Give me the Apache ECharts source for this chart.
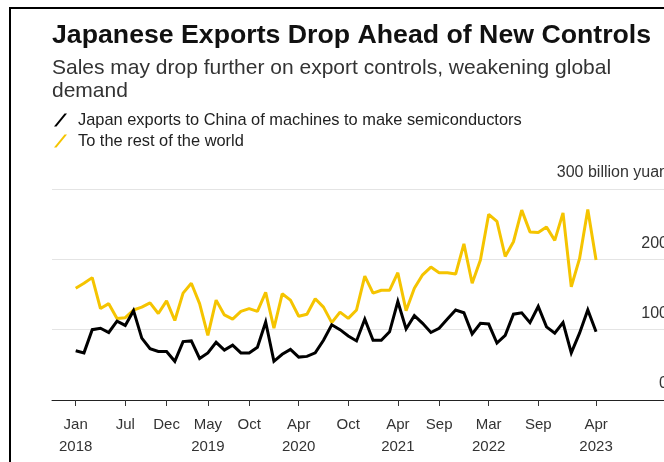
<!DOCTYPE html>
<html>
<head>
<meta charset="utf-8">
<script src="https://cdn.jsdelivr.net/npm/echarts@6/dist/echarts.min.js"></script>
<style>
  html, body { margin: 0; padding: 0; background: #fff; overflow: hidden; }
  #chart { width: 680px; height: 462px; }
</style>
</head>
<body>
<div id="chart"></div>
<script>
// monthly values, Jan 2018 .. Apr 2023 (billion yuan)
const months = ['Jan','Feb','Mar','Apr','May','Jun','Jul','Aug','Sep','Oct','Nov','Dec']
const startYear = 2018

const chinaExports = [
  70, 67, 100, 102, 96, 112, 106, 127, 88, 73, 69, 69,
  55, 83, 84, 59, 67, 82, 71, 78, 67, 67, 75, 111,
  55, 65, 72, 61, 62, 67, 85, 107, 100, 91, 84, 115,
  85, 85, 97, 140, 101, 120, 109, 96, 102, 115, 128, 124,
  94, 109, 108, 81, 92, 122, 124, 110, 133, 104, 95, 110,
  67, 95, 128, 97
]
const restOfWorld = [
  159, 166, 174, 130, 137, 116, 117, 128, 132, 138, 123, 141,
  113, 152, 166, 137, 92, 142, 121, 115, 126, 130, 126, 153,
  102, 151, 142, 119, 122, 144, 132, 110, 125, 116, 128, 176,
  152, 156, 156, 181, 127, 159, 178, 189, 181, 181, 179, 222,
  166, 199, 264, 254, 204, 225, 270, 239, 238, 246, 227, 266,
  161, 201, 271, 199
]

// tick positions (month index from Jan 2018)
const tickIdx = [0, 6, 11, 16, 21, 27, 33, 39, 44, 50, 56, 63]
const yTicks = [0, 100, 200, 300]

const seriesNames = ['Japan exports to China of machines to make semiconductors', 'To the rest of the world']

const chart = echarts.init(document.getElementById('chart'))

// month label, plus the year under the first tick of each year
const labelFor = (i) => {
  const m = months[i % 12]
  const y = startYear + Math.floor(i / 12)
  const first = tickIdx.find(t => startYear + Math.floor(t / 12) === y)
  return first === i ? m + '\n' + y : m
}

const font = 'Liberation Sans, Arial, sans-serif'

const option = {
  animation: false,
  textStyle: { fontFamily: font },
  graphic: [{
    type: 'rect',
    shape: { x: 10, y: 8, width: 700, height: 500 },
    style: { fill: 'none', stroke: '#000', lineWidth: 2 }
  }],
  title: {
    text: 'Japanese Exports Drop Ahead of New Controls',
    subtext: 'Sales may drop further on export controls, weakening global\ndemand',
    left: 52,
    top: 21,
    padding: 0,
    itemGap: 6,
    textStyle: { fontSize: 26.7, fontWeight: 'bold', color: '#111', lineHeight: 30, fontFamily: font },
    subtextStyle: { fontSize: 21, color: '#333', lineHeight: 23, fontFamily: font }
  },
  legend: {
    orient: 'vertical',
    left: 54,
    top: 112,
    padding: 0,
    itemWidth: 13,
    itemHeight: 13,
    itemGap: 5,
    icon: 'path://M10.5,0 L13,0 L2.5,13 L0,13 Z',
    textStyle: { fontSize: 16.4, color: '#222', padding: [0, 0, 0, 6], fontFamily: font },
    data: seriesNames
  },
  grid: { left: 52, right: 12, top: 189, bottom: 62 },
  xAxis: {
    type: 'value',
    min: -2.87,
    max: 71.71,
    splitLine: { show: false },
    axisLine: { show: true, lineStyle: { color: '#222', width: 1 } },
    axisTick: { show: true, length: 6, lineStyle: { color: '#333' }, customValues: tickIdx },
    axisLabel: {
      customValues: tickIdx,
      formatter: (v) => labelFor(Math.round(v)),
      color: '#333',
      fontSize: 15,
      lineHeight: 22,
      margin: 14,
      fontFamily: font
    }
  },
  yAxis: {
    type: 'value',
    position: 'right',
    min: 0,
    max: 300,
    interval: 100,
    axisLine: { show: false },
    axisTick: { show: false },
    splitLine: { lineStyle: { color: '#e4e4e4', width: 1 } },
    axisLabel: {
      inside: true,
      margin: 0,
      color: '#333',
      fontSize: 16,
      verticalAlign: 'bottom',
      padding: [0, 0, 8, 0],
      fontFamily: font,
      formatter: (v) => v === 300 ? '300 billion yuan' : String(v)
    }
  },
  series: [
    {
      name: seriesNames[0],
      type: 'line',
      data: chinaExports.map((v, i) => [i, v]),
      showSymbol: false,
      z: 3,
      lineStyle: { color: '#000', width: 3, join: 'miter' },
      itemStyle: { color: '#000' }
    },
    {
      name: seriesNames[1],
      type: 'line',
      data: restOfWorld.map((v, i) => [i, v]),
      showSymbol: false,
      z: 2,
      lineStyle: { color: '#f5c400', width: 3 },
      itemStyle: { color: '#f5c400' }
    }
  ]
}

chart.setOption(option)
</script>
</body>
</html>
